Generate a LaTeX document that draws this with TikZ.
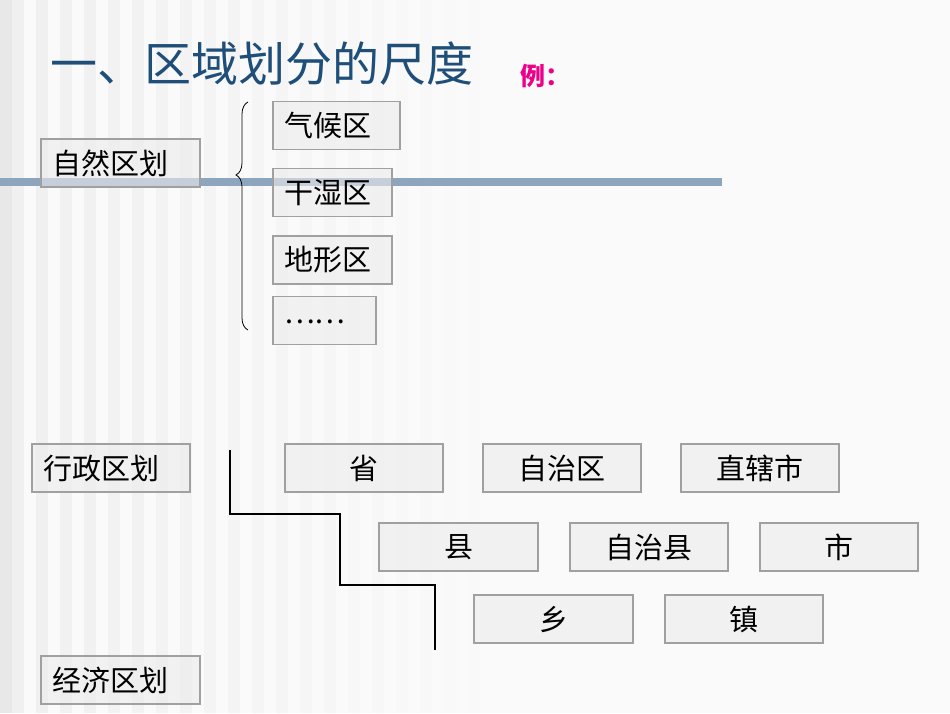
\documentclass[tikz,border=0pt]{standalone}
\usepackage{fontspec}
\newfontfamily\cjk{Noto Sans CJK SC}
\usetikzlibrary{decorations.pathreplacing}
\definecolor{titleblue}{HTML}{1F4E79}
\definecolor{barblue}{HTML}{8EA5BE}
\definecolor{boxline}{HTML}{A0A0A0}
\tikzset{
  bx/.style={draw=boxline, line width=1.2pt, fill=gray!15, fill opacity=0.6, text opacity=1, minimum height=48pt, inner sep=0pt, font=\cjk\fontsize{29}{29}\selectfont},
  lbl/.style={anchor=west, inner sep=0pt, font=\cjk\fontsize{29}{29}\selectfont}
}
\begin{document}
\begin{tikzpicture}[x=1pt,y=-1pt]
\useasboundingbox (0,0) rectangle (950,713);
\fill[white!96!gray] (0,0) rectangle (950,713);
\foreach \i in {0,...,39} {
  \pgfmathsetmacro{\g}{max(4,12-\i*0.4)}
  \fill[gray!\g] (\i*24+12,0) rectangle (\i*24+24,713);
}
\fill[gray!18] (0,0) rectangle (12,713);
% title
\node[anchor=west, inner sep=0pt, text=titleblue, font=\cjk\fontsize{47}{47}\selectfont] (title) at (50,64) {一、区域划分的尺度};
\node[anchor=west, inner sep=0pt, text=magenta, font=\cjk\bfseries\fontsize{25}{25}\selectfont] (ex) at (520,76) {例：};
% natural
\fill[barblue] (0,178) rectangle (722,186);
\node[bx, minimum width=159pt] (nat) at (120.5,163) {};
\node[lbl] at (52,163) {自然区划};
\node[bx, minimum width=127pt] (a1) at (336.5,125.5) {};
\node[lbl] at (284,125.5) {气候区};
\node[bx, minimum width=119pt] (a2) at (332.5,192.5) {};
\node[lbl] at (284,192.5) {干湿区};
\node[bx, minimum width=119pt] (a3) at (332.5,260) {};
\node[lbl] at (284,260) {地形区};
\node[bx, minimum width=103pt] (a4) at (324.5,320.5) {};
\node[lbl] at (284,322) {……};
\coordinate (bt) at (248,102);
\coordinate (bb) at (248,330);
\draw[decorate, decoration={brace, amplitude=12pt, aspect=0.68}, line width=0.8pt] (bb) -- (bt);
% admin
\node[bx, minimum width=158pt] (adm) at (111,468) {};
\node[lbl] at (43,468) {行政区划};
\node[bx, minimum width=158pt] (p1) at (364,468) {省};
\node[bx, minimum width=158pt] (p2) at (562,468) {自治区};
\node[bx, minimum width=158pt] (p3) at (760,468) {直辖市};
\node[bx, minimum width=159pt] (c1) at (458.5,547) {县};
\node[bx, minimum width=158pt] (c2) at (649,547) {自治县};
\node[bx, minimum width=158pt] (c3) at (839,547) {市};
\node[bx, minimum width=159pt] (t1) at (553.5,619) {乡};
\node[bx, minimum width=158pt] (t2) at (744,619) {镇};
\coordinate (s0) at (230,450);
\coordinate (s1) at (435,650);
\draw[line width=1.2pt] (s0) |- (340,514) |- (435,585) -- (s1);
\node[bx, minimum width=159pt] (eco) at (120.5,680) {};
\node[lbl] at (52,680) {经济区划};
\end{tikzpicture}
\end{document}
